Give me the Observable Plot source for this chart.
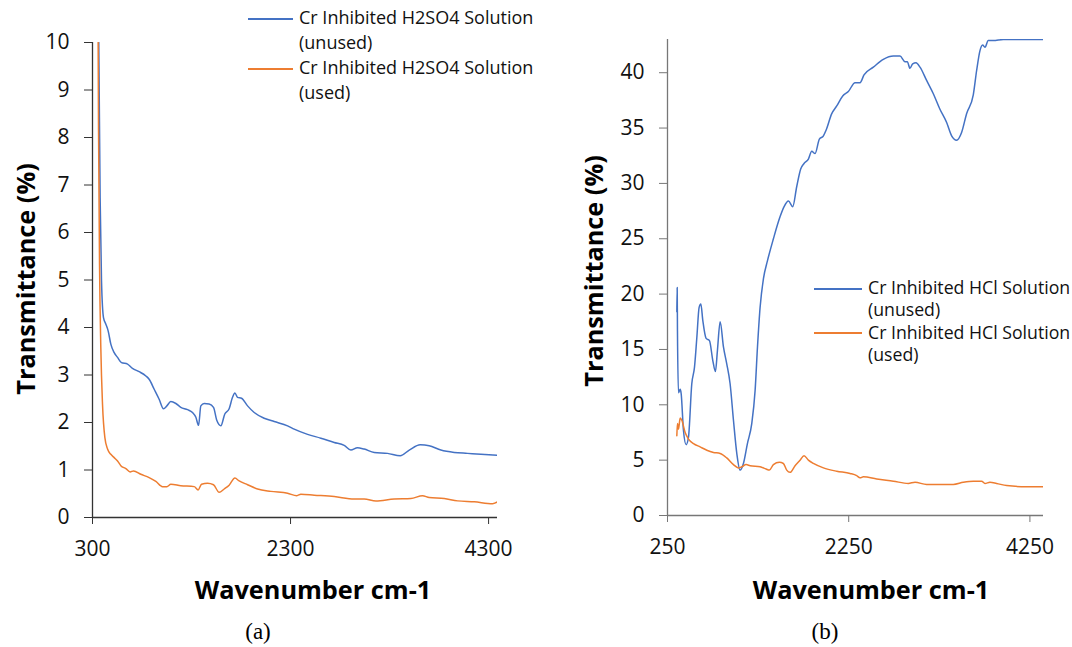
<!DOCTYPE html>
<html><head><meta charset="utf-8">
<script src="https://cdn.jsdelivr.net/npm/d3@7"></script>
<script src="https://cdn.jsdelivr.net/npm/@observablehq/plot@0.6"></script>
<style>
body{margin:0;background:#fff;font-family:"Open Sans",sans-serif;}
#wrap{position:relative;width:1072px;height:647px;overflow:hidden;background:#fff;}
.panel{position:absolute;top:0;}
.t{position:absolute;white-space:nowrap;color:#000;}
.ttl{font-weight:bold;font-size:25.3px;}
.cap{font-family:"Liberation Serif","Times New Roman",serif;font-size:23px;}
.rot{transform:translate(-50%,-50%) rotate(-90deg);}
.ctr{transform:translate(-50%,-50%);}
.leg{position:absolute;color:#111;white-space:nowrap;}
.sw{position:absolute;height:2px;}
</style></head><body><div id="wrap"></div>
<script>
// ---------- Panel (a): H2SO4 ----------
const aUnusedX = [357,377,391,411,435,458,485,519,553,593,654,704,771,839,872,923,973,1017,1051,1091,1142,1192,1260,1310,1344,1371,1394,1428,1478,1522,1556,1596,1636,1680,1714,1738,1765,1805,1866,1933,2034,2135,2270,2337,2472,2606,2741,2842,2909,2976,3044,3145,3280,3408,3499,3610,3700,3818,3953,4088,4222,4391];
const aUnusedY = [11.5,6.74,4.98,4.21,4.07,3.93,3.65,3.47,3.37,3.26,3.23,3.14,3.07,2.98,2.91,2.70,2.49,2.29,2.35,2.44,2.40,2.32,2.27,2.21,2.11,1.94,2.35,2.40,2.39,2.32,2.04,1.93,2.18,2.29,2.53,2.62,2.53,2.51,2.35,2.21,2.09,2.02,1.93,1.86,1.75,1.67,1.58,1.52,1.42,1.47,1.44,1.37,1.35,1.30,1.42,1.53,1.51,1.42,1.37,1.35,1.33,1.31];
const aUsedX = [354,361,371,384,401,425,452,485,519,553,586,637,680,714,788,872,940,1007,1051,1091,1192,1327,1367,1401,1462,1522,1579,1630,1680,1738,1781,1866,1967,2101,2270,2364,2404,2539,2741,2943,3044,3162,3347,3515,3633,3700,3852,3987,4155,4340,4391];
const aUsedY = [11.5,8.14,5.33,3.58,2.39,1.68,1.44,1.33,1.26,1.19,1.09,1.03,0.96,0.98,0.91,0.84,0.76,0.65,0.65,0.70,0.67,0.65,0.58,0.70,0.72,0.69,0.53,0.60,0.68,0.83,0.77,0.69,0.60,0.55,0.51,0.46,0.49,0.47,0.44,0.39,0.39,0.35,0.39,0.40,0.46,0.42,0.40,0.35,0.33,0.29,0.33];
const aXTicks = [300,2300,4300];
const aYTicks = [0,1,2,3,4,5,6,7,8,9,10];
const aNames = ["Cr Inhibited H2SO4 Solution (unused)","Cr Inhibited H2SO4 Solution (used)"];

// ---------- Panel (b): HCl ----------
const bUnusedX = [353,357,360,371,390,401,426,456,482,518,548,574,599,618,640,676,713,750,779,801,831,868,904,941,978,1015,1051,1088,1132,1180,1217,1243,1272,1309,1353,1419,1493,1537,1585,1632,1676,1720,1757,1805,1842,1879,1926,1971,2000,2063,2118,2184,2246,2320,2375,2419,2522,2632,2743,2816,2871,2897,2926,2956,2993,3037,3110,3184,3257,3331,3386,3441,3496,3551,3625,3662,3699,3728,3754,3790,3846,3956,4213,4397];
const bUnusedY = [18.4,20.6,16.7,11.1,11.4,11.0,7.7,6.4,7.1,11.9,13.4,16.1,18.8,19.1,17.6,16.0,15.8,14.0,13.0,14.9,17.5,15.2,13.7,11.9,8.6,5.6,4.1,4.7,6.5,8.3,11.3,15.2,18.8,21.4,23.0,25.0,27.0,27.9,28.4,27.9,29.7,31.3,31.8,32.2,32.9,32.7,34.0,34.3,34.8,36.3,37.0,37.9,38.3,39.1,39.1,39.8,40.5,41.2,41.5,41.5,41.0,41.0,40.4,40.8,40.9,40.5,39.3,38.1,36.7,35.5,34.3,33.9,34.6,36.3,38.0,40.2,42.0,42.5,42.3,42.9,42.9,43.0,43.0,43.0];
const bUsedX = [353,360,371,390,408,445,482,537,610,684,757,831,904,978,1033,1070,1118,1162,1272,1338,1375,1419,1485,1529,1566,1603,1658,1713,1757,1805,1860,1971,2118,2265,2338,2375,2412,2559,2743,2908,2982,3110,3257,3404,3515,3625,3717,3754,3809,3882,3993,4213,4397];
const bUsedY = [7.2,8.3,7.8,8.8,8.6,7.5,6.9,6.5,6.2,5.9,5.7,5.6,5.2,4.6,4.3,4.4,4.6,4.5,4.4,4.2,4.1,4.6,4.8,4.7,4.1,3.9,4.5,5.0,5.4,5.0,4.7,4.3,4.0,3.8,3.6,3.4,3.5,3.3,3.1,2.9,3.0,2.8,2.8,2.8,3.0,3.1,3.1,2.9,3.0,2.9,2.7,2.6,2.6];
const bXTicks = [250,2250,4250];
const bYTicks = [0,5,10,15,20,25,30,35,40];
const bNames = ["Cr Inhibited HCl Solution (unused)","Cr Inhibited HCl Solution (used)"];

const colors = ["#4472C4","#ED7D31"];

function rows(xs, ys, s){ return xs.map((x,i)=>({x, y: ys[i], s})); }

function panel(o){
  const data = [...rows(o.ux,o.uy,o.names[0]), ...rows(o.sx,o.sy,o.names[1])];
  return Plot.plot({
    width: 536, height: 647,
    marginLeft: o.ml, marginRight: o.mr, marginTop: o.mt, marginBottom: o.mb,
    style: {fontFamily: '"Open Sans", sans-serif', background: "transparent", overflow: "visible"},
    x: {domain: o.xd, ticks: o.xt},
    y: {domain: o.yd, ticks: o.yt},
    color: {domain: o.names, range: colors},
    marks: [
      Plot.line(data, {x: "x", y: "y", stroke: "s", strokeWidth: 1.5, curve: "monotone-x", clip: true}),
      Plot.ruleY([o.yd[0]], {stroke: o.axc, strokeWidth: 1.3}),
      Plot.ruleX([o.xd[0]], {stroke: o.axc, strokeWidth: 1.3}),
      Plot.axisX({ticks: o.xt, tickFormat: d3.format("d"), tickSize: 7, tickPadding: 17, fontSize: 21, stroke: o.axc, fill: "#111", label: null}),
      Plot.axisY({ticks: o.yt, tickFormat: d3.format("d"), tickSize: 8, tickPadding: 15, fontSize: 21, stroke: o.axc, fill: "#111", label: null})
    ]
  });
}

const wrap = document.getElementById("wrap");

const pa = panel({ux:aUnusedX, uy:aUnusedY, sx:aUsedX, sy:aUsedY, names:aNames,
  xd:[300,4390], yd:[0,10], xt:aXTicks, yt:aYTicks, ml:92, mr:39, mt:42, mb:130, axc:"#333"});
pa.classList.add("panel"); pa.style.left = "0px";
wrap.appendChild(pa);

const pb = panel({ux:bUnusedX, uy:bUnusedY, sx:bUsedX, sy:bUsedY, names:bNames,
  xd:[250,4400], yd:[0,43], xt:bXTicks, yt:bYTicks, ml:131, mr:29, mt:39, mb:132, axc:"#777"});
pb.classList.add("panel"); pb.style.left = "536px";
wrap.appendChild(pb);

function addText(txt, cls, x, y){
  const d = document.createElement("div");
  d.className = "t " + cls; d.textContent = txt;
  d.style.left = x + "px"; d.style.top = y + "px";
  wrap.appendChild(d);
}
addText("Transmittance (%)", "ttl rot", 25, 279);
addText("Transmittance (%)", "ttl rot", 593, 271);
addText("Wavenumber cm-1", "ttl ctr", 313, 589);
addText("Wavenumber cm-1", "ttl ctr", 871, 589);
addText("(a)", "cap ctr", 258, 632);
addText("(b)", "cap ctr", 825, 632);

function legend(names, x0, y0, lh, swX, swW, fs, swY){
  names.forEach((n, i) => {
    const parts = n.split(" (");
    const top = Math.round(y0 + i * 2 * lh);
    const sw = document.createElement("div");
    sw.className = "sw"; sw.style.background = colors[i];
    sw.style.left = swX + "px"; sw.style.width = swW + "px";
    sw.style.top = swY[i] + "px";
    wrap.appendChild(sw);
    const d = document.createElement("div");
    d.className = "leg";
    d.style.fontSize = fs + "px";
    d.style.left = x0 + "px"; d.style.top = top + "px";
    d.style.lineHeight = lh + "px";
    const l1 = document.createElement("div"); l1.textContent = parts[0];
    const l2 = document.createElement("div"); l2.textContent = "(" + parts[1];
    d.appendChild(l1); d.appendChild(l2);
    wrap.appendChild(d);
  });
}
legend(aNames, 299, 5, 24.8, 248, 45, 18, [18, 68]);
legend(bNames, 868, 276, 22.3, 814, 48, 17.7, [288, 332]);
</script></body></html>
